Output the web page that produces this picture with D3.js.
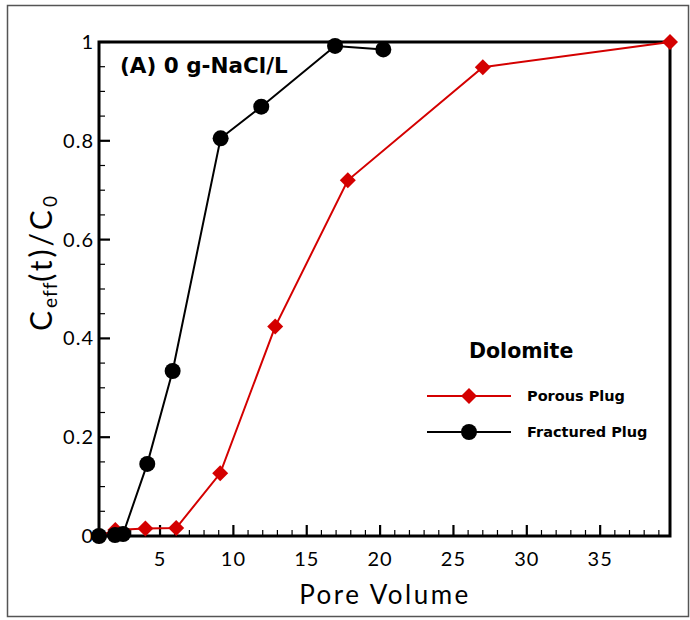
<!DOCTYPE html>
<html>
<head>
<meta charset="utf-8">
<script src="https://cdn.jsdelivr.net/npm/d3@7"></script>
<style>
  html, body { margin: 0; padding: 0; background: #fff; }
  svg { display: block; }
  text { font-family: "Lato", "Open Sans", sans-serif; fill: #000; }
  text.bold { font-family: "DejaVu Sans", sans-serif; font-weight: bold; }
</style>
</head>
<body>
<svg id="chart" width="690" height="620"></svg>
<script>
// Pore volume (x) and normalised effluent concentration (y) for each plug
const porousPV   = [0.85, 1.95, 4.0, 6.1, 9.1, 12.85, 17.8, 27.0, 39.76];
const porousC    = [0.0, 0.012, 0.015, 0.016, 0.127, 0.424, 0.72, 0.949, 1.0];
const fracturedPV = [0.84, 1.93, 2.48, 4.13, 5.86, 9.13, 11.9, 16.93, 20.22];
const fracturedC  = [0.0, 0.002, 0.004, 0.146, 0.334, 0.805, 0.869, 0.992, 0.985];

const xTickValues = [5, 10, 15, 20, 25, 30, 35];
const yTickValues = [0, 0.2, 0.4, 0.6, 0.8, 1];
const yTickLabels = ["0", "0.2", "0.4", "0.6", "0.8", "1"];

const seriesNames = ["Porous Plug", "Fractured Plug"];
const legendTitle = "Dolomite";
const panelLabel = "(A) 0 g-NaCl/L";

const svg = d3.select("#chart");

// outer frame
svg.append("rect")
  .attr("x", 7.5).attr("y", 5.5).attr("width", 681).attr("height", 611)
  .attr("fill", "none").attr("stroke", "#555").attr("stroke-width", 1.5);

const plot = { left: 99, right: 670, top: 42, bottom: 536 };

const allX = porousPV.concat(fracturedPV);
const x = d3.scaleLinear()
  .domain([d3.min(allX), d3.max(allX)])
  .range([plot.left, plot.right]);
const y = d3.scaleLinear().domain([0, 1]).range([plot.bottom, plot.top]);

// minor ticks (inward)
const xMinor = d3.range(1, 40, 1).filter(v => v % 5 !== 0 && v >= x.domain()[0] && v <= x.domain()[1]);
const yMinor = d3.range(0.05, 1, 0.05).filter(v => Math.abs(v * 5 - Math.round(v * 5)) > 1e-6);

const ticks = svg.append("g").attr("stroke", "#000");
ticks.selectAll("line.xmin").data(xMinor).join("line")
  .attr("x1", d => x(d)).attr("x2", d => x(d))
  .attr("y1", plot.bottom).attr("y2", plot.bottom - 6)
  .attr("stroke-width", 1.2);
ticks.selectAll("line.xmaj").data(xTickValues).join("line")
  .attr("class", "xmaj")
  .attr("x1", d => x(d)).attr("x2", d => x(d))
  .attr("y1", plot.bottom).attr("y2", plot.bottom - 11)
  .attr("stroke-width", 2.2);
ticks.selectAll("line.ymin").data(yMinor).join("line")
  .attr("class", "ymin")
  .attr("y1", d => y(d)).attr("y2", d => y(d))
  .attr("x1", plot.left).attr("x2", plot.left + 6)
  .attr("stroke-width", 1.2);
ticks.selectAll("line.ymaj").data(yTickValues).join("line")
  .attr("class", "ymaj")
  .attr("y1", d => y(d)).attr("y2", d => y(d))
  .attr("x1", plot.left).attr("x2", plot.left + 11)
  .attr("stroke-width", 2.2);

// axes frame
svg.append("rect")
  .attr("x", plot.left).attr("y", plot.top)
  .attr("width", plot.right - plot.left).attr("height", plot.bottom - plot.top)
  .attr("fill", "none").attr("stroke", "#000").attr("stroke-width", 3);

// tick labels
svg.append("g").selectAll("text").data(xTickValues).join("text")
  .attr("x", d => x(d)).attr("y", 566)
  .attr("text-anchor", "middle").attr("font-size", 20).attr("letter-spacing", 1)
  .text(d => d);
svg.append("g").selectAll("text").data(yTickValues).join("text")
  .attr("x", plot.left - 5).attr("y", d => y(d) + 7)
  .attr("text-anchor", "end").attr("font-size", 20).attr("letter-spacing", 1)
  .text((d, i) => yTickLabels[i]);

// axis titles
svg.append("text")
  .attr("x", 385).attr("y", 604)
  .attr("text-anchor", "middle").attr("font-size", 26).attr("letter-spacing", 2.5)
  .text("Pore Volume");
const yt = svg.append("text")
  .attr("transform", "translate(52,262) rotate(-90)")
  .attr("text-anchor", "middle").attr("font-size", 30).attr("letter-spacing", 3);
yt.append("tspan").text("C");
yt.append("tspan").attr("font-size", 19).attr("letter-spacing", 1).attr("dy", 5).text("eff");
yt.append("tspan").attr("dy", -5).text("(t)/C");
yt.append("tspan").attr("font-size", 19).attr("dy", 5).text("0");

// panel label
svg.append("text").attr("class", "bold")
  .attr("x", 120).attr("y", 73)
  .attr("font-size", 21.5)
  .text(panelLabel);

const line = d3.line().x(d => x(d[0])).y(d => y(d[1]));
const porous = porousPV.map((v, i) => [v, porousC[i]]);
const fractured = fracturedPV.map((v, i) => [v, fracturedC[i]]);
const red = "#d40000";

const diamond = d3.symbol().type(d3.symbolSquare).size(128);

// porous plug
svg.append("path").datum(porous)
  .attr("d", line).attr("fill", "none").attr("stroke", red).attr("stroke-width", 2);
svg.append("g").selectAll("path").data(porous).join("path")
  .attr("d", diamond)
  .attr("transform", d => `translate(${x(d[0])},${y(d[1])}) rotate(45)`)
  .attr("fill", red);

// fractured plug
svg.append("path").datum(fractured)
  .attr("d", line).attr("fill", "none").attr("stroke", "#000").attr("stroke-width", 2);
svg.append("g").selectAll("circle").data(fractured).join("circle")
  .attr("cx", d => x(d[0])).attr("cy", d => y(d[1])).attr("r", 8)
  .attr("fill", "#000");

// legend
const lg = svg.append("g");
lg.append("text").attr("class", "bold").attr("x", 469).attr("y", 358)
  .attr("font-size", 20.5).text(legendTitle);
const legendRows = [
  { name: seriesNames[0], color: red, y: 396, shape: "diamond" },
  { name: seriesNames[1], color: "#000", y: 432, shape: "circle" }
];
legendRows.forEach(r => {
  lg.append("line").attr("x1", 427).attr("x2", 511)
    .attr("y1", r.y).attr("y2", r.y)
    .attr("stroke", r.color).attr("stroke-width", 2);
  if (r.shape === "diamond") {
    lg.append("path").attr("d", diamond)
      .attr("transform", `translate(469,${r.y}) rotate(45)`).attr("fill", r.color);
  } else {
    lg.append("circle").attr("cx", 469).attr("cy", r.y).attr("r", 8).attr("fill", r.color);
  }
  lg.append("text").attr("class", "bold").attr("x", 527).attr("y", r.y + 5)
    .attr("font-size", 14.5).text(r.name);
});
</script>
</body>
</html>
